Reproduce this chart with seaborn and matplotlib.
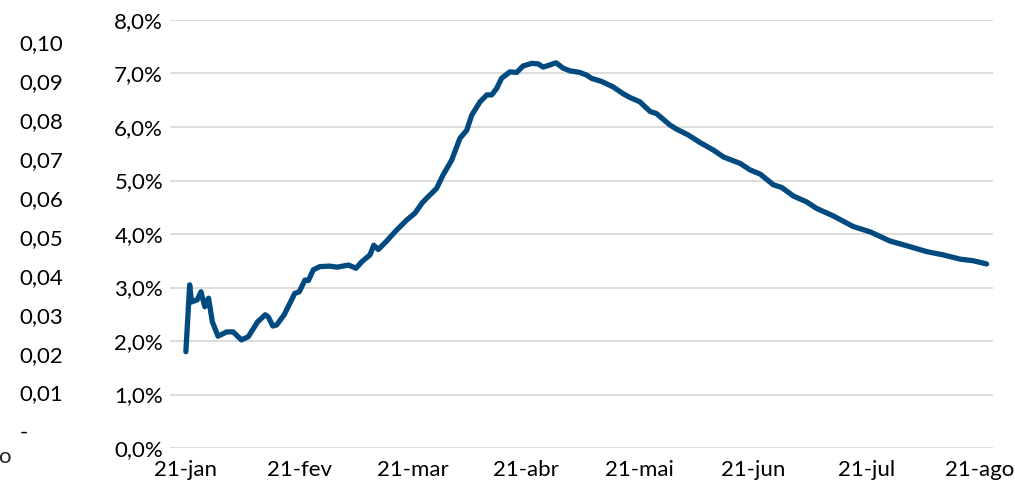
import seaborn as sns
import pandas as pd
import matplotlib.pyplot as plt
from matplotlib.ticker import FuncFormatter

# values (day offset from 21-jan, share in %)
days = [0, 1, 1.5, 3, 4, 5, 6, 7, 8.5, 10.8, 12.5, 14.7, 16.5, 19, 21, 21.8,
        23, 24, 26, 28.8, 30, 31.5, 32.4, 33.7, 35.4, 38, 40, 41.5, 43, 45,
        46.5, 48.7, 49.7, 50.9, 53, 55.7, 58.4, 60.6, 62.5, 63.7, 66.3, 68,
        70.3, 72.5, 74.3, 75.6, 77.8, 79.6, 80.9, 82.2, 83.5, 85.7, 87.5,
        89.2, 91.5, 93.2, 94.5, 96.3, 97.9, 99.8, 101.6, 104.2, 106, 107.3,
        110, 113, 115.7, 117.5, 120.1, 122.8, 124.5, 128, 129.8, 132.9, 136,
        139.5, 142.2, 146.6, 149.2, 151.9, 155.4, 157.6, 160.7, 164.2, 166.8,
        171.2, 176.5, 181, 186.2, 190.7, 196, 200.3, 204.8, 208.3, 211.8]
share_pct = [1.80, 3.05, 2.73, 2.77, 2.92, 2.64, 2.80, 2.36, 2.09, 2.17, 2.17,
             2.02, 2.08, 2.36, 2.49, 2.45, 2.28, 2.30, 2.49, 2.89, 2.92, 3.14,
             3.13, 3.33, 3.39, 3.40, 3.38, 3.40, 3.42, 3.36, 3.48, 3.61, 3.79,
             3.71, 3.86, 4.07, 4.26, 4.39, 4.58, 4.67, 4.85, 5.10, 5.38, 5.79,
             5.94, 6.22, 6.47, 6.60, 6.60, 6.72, 6.91, 7.03, 7.02, 7.14, 7.19,
             7.18, 7.12, 7.16, 7.20, 7.10, 7.05, 7.02, 6.97, 6.91, 6.85, 6.75,
             6.62, 6.55, 6.47, 6.29, 6.25, 6.04, 5.96, 5.85, 5.71, 5.57, 5.44,
             5.32, 5.20, 5.12, 4.92, 4.87, 4.71, 4.60, 4.48, 4.34, 4.14, 4.04,
             3.87, 3.78, 3.67, 3.61, 3.53, 3.50, 3.44]

month_ticks = [0, 30, 60, 90, 120, 150, 180, 210]
month_labels = ['21-jan', '21-fev', '21-mar', '21-abr', '21-mai', '21-jun',
                '21-jul', '21-ago']
pct_ticks = [0, 0.01, 0.02, 0.03, 0.04, 0.05, 0.06, 0.07, 0.08]
left_ticks = [0, 0.01, 0.02, 0.03, 0.04, 0.05, 0.06, 0.07, 0.08, 0.09, 0.10]
left_labels = ['-      ', '0,01', '0,02', '0,03', '0,04', '0,05', '0,06',
               '0,07', '0,08', '0,09', '0,10']

df = pd.DataFrame({'day': days, 'share': [v / 100 for v in share_pct]})

sns.set_theme(style='white')
plt.rcParams['font.family'] = ['Lato', 'DejaVu Sans']

fig = plt.figure(figsize=(10.15, 4.95), dpi=100)
ax = fig.add_axes([170 / 1015, 47 / 495, 823 / 1015, 428 / 495])

# gridlines
for t in pct_ticks:
    ax.axhline(t, color='#D9D9D9', lw=1.3, zorder=0)

sns.lineplot(data=df, x='day', y='share', ax=ax, color='#004A80',
             linewidth=3.8, solid_capstyle='round', solid_joinstyle='round')

ax.set_xlim(-4.2, 213.5)
ax.set_ylim(0, 0.08)
ax.set_xticks(month_ticks)
ax.set_xticklabels(month_labels)
ax.set_yticks(pct_ticks)
ax.yaxis.set_major_formatter(
    FuncFormatter(lambda v, p: f'{v * 100:.1f}%'.replace('.', ',')))
ax.tick_params(axis='both', length=0, labelsize=16, colors='black')
ax.tick_params(axis='y', pad=5)
ax.tick_params(axis='x', pad=9)
ax.set_xlabel('')
ax.set_ylabel('')
for s in ax.spines.values():
    s.set_visible(False)

# leftover secondary scale on the far left
ax2 = ax.twinx()
ax2.yaxis.tick_left()
ax2.spines['left'].set_position(('outward', 77))
for s in ax2.spines.values():
    s.set_visible(False)
ax2.set_ylim(-0.00427, 0.10578)
ax2.set_yticks(left_ticks)
ax2.set_yticklabels(left_labels)
ax2.tick_params(axis='y', length=0, pad=0, labelsize=16, colors='black')
ax2.grid(False)

fig.text(-2 / 1015, 1 - 457 / 495, 'o', fontsize=16, ha='left', va='center')

plt.savefig('out.png', dpi=100)
